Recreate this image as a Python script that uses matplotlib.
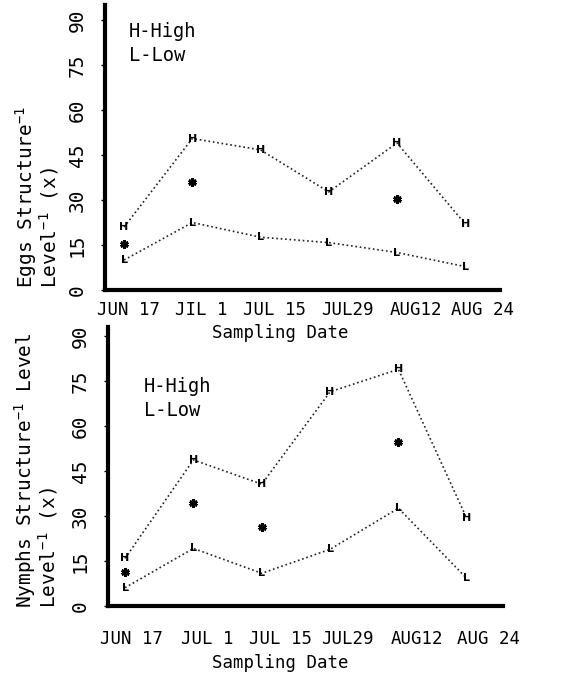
import matplotlib
matplotlib.use("Agg")
import matplotlib.pyplot as plt

plt.rcParams['font.family'] = ['DejaVu Sans Mono']
plt.rcParams['mathtext.fontset'] = 'custom'
plt.rcParams['mathtext.rm'] = 'DejaVu Sans Mono'
plt.rcParams['mathtext.it'] = 'DejaVu Sans Mono'

# sampling dates (index positions)
dates = [0, 1, 2, 3, 4, 5]
date_labels_top = ["JUN 17", "JIL 1", "JUL 15", "JUL29", "AUG12", "AUG 24"]
date_labels_bot = ["JUN 17", "JUL 1", "JUL 15", "JUL29", "AUG12", "AUG 24"]
yticks = [0, 15, 30, 45, 60, 75, 90]

# eggs per structure
eggs_high = [21, 50.5, 46.7, 32.7, 49, 22]
eggs_low = [10, 22.5, 17.6, 15.8, 12.5, 7.8]
eggs_star_x = [0, 1, 4]
eggs_star = [15.3, 36, 30.3]

# nymphs per structure
nymphs_high = [15.9, 48.7, 40.6, 71.4, 78.9, 29.2]
nymphs_low = [6.1, 19.2, 10.9, 18.9, 32.6, 9.2]
nymphs_star_x = [0, 1, 2, 4]
nymphs_star = [11.2, 34.2, 26.2, 54.8]

W, H = 567, 679
fig = plt.figure(figsize=(W / 100, H / 100), dpi=100)


def px(x0, y0, x1, y1):
    # pixel box -> figure fraction [left, bottom, width, height]
    return [x0 / W, 1 - y1 / H, (x1 - x0) / W, (y1 - y0) / H]


def panel(box, xlim, ylim, hi, lo, sx, sy, labels, label_pos, legend_xy, pad):
    ax = fig.add_axes(box)
    ax.plot(dates, hi, ls=':', color='#222222', lw=1.2)
    ax.plot(dates, lo, ls=':', color='#222222', lw=1.2)
    for x, y in zip(dates, hi):
        ax.text(x, y, "H", ha='center', va='center', fontsize=8, weight='bold',
                family='DejaVu Sans')
    for x, y in zip(dates, lo):
        ax.text(x, y, "L", ha='center', va='center', fontsize=8, weight='bold',
                family='DejaVu Sans')
    ax.plot(sx, sy, ls='none', marker=(6, 2, 0), ms=6, mew=2, color='black')
    ax.set_xlim(*xlim)
    ax.set_ylim(*ylim)
    ax.spines['top'].set_visible(False)
    ax.spines['right'].set_visible(False)
    ax.spines['left'].set_linewidth(3)
    ax.spines['bottom'].set_linewidth(3)
    ax.set_yticks(yticks)
    ax.set_yticklabels([str(v) for v in yticks], rotation=90, va='center',
                       fontsize=14)
    ax.tick_params(axis='y', length=3, width=1, pad=10)
    ax.set_xticks(label_pos)
    ax.set_xticklabels(labels, fontsize=12.5)
    ax.tick_params(axis='x', length=0, pad=pad)
    ax.text(legend_xy[0], legend_xy[1], "H-High\nL-Low", transform=ax.transAxes,
            fontsize=13.5, va='top', ha='left', linespacing=1.3)
    return ax


ax1 = panel(px(105, 5, 500, 290), (-0.28, 5.51), (0, 95), eggs_high, eggs_low,
            eggs_star_x, eggs_star, date_labels_top,
            [0.07, 1.13, 2.21, 3.28, 4.28, 5.26], (0.06, 0.94), 8)
ax2 = panel(px(108, 327, 503, 606), (-0.25, 5.53), (0, 93), nymphs_high, nymphs_low,
            nymphs_star_x, nymphs_star, date_labels_bot,
            [0.10, 1.20, 2.28, 3.26, 4.27, 5.32], (0.09, 0.82), 17)

fig.text(280 / W, 1 - 333 / H, "Sampling Date", ha='center', va='center', fontsize=12.5)
fig.text(280 / W, 1 - 663 / H, "Sampling Date", ha='center', va='center', fontsize=12.5)

# y axis labels (two rotated lines each)
fig.text(37 / W, 1 - 288 / H, "Eggs Structure$^{-1}$\nLevel$^{-1}$ (x)",
         rotation=90, ha='center', va='bottom', multialignment='left',
         fontsize=14, linespacing=0.9)
fig.text(36 / W, 1 - 608 / H, "Nymphs Structure$^{-1}$ Level\nLevel$^{-1}$ (x)",
         rotation=90, ha='center', va='bottom', multialignment='left',
         fontsize=14, linespacing=0.9)

fig.savefig("out.png", dpi=100)
